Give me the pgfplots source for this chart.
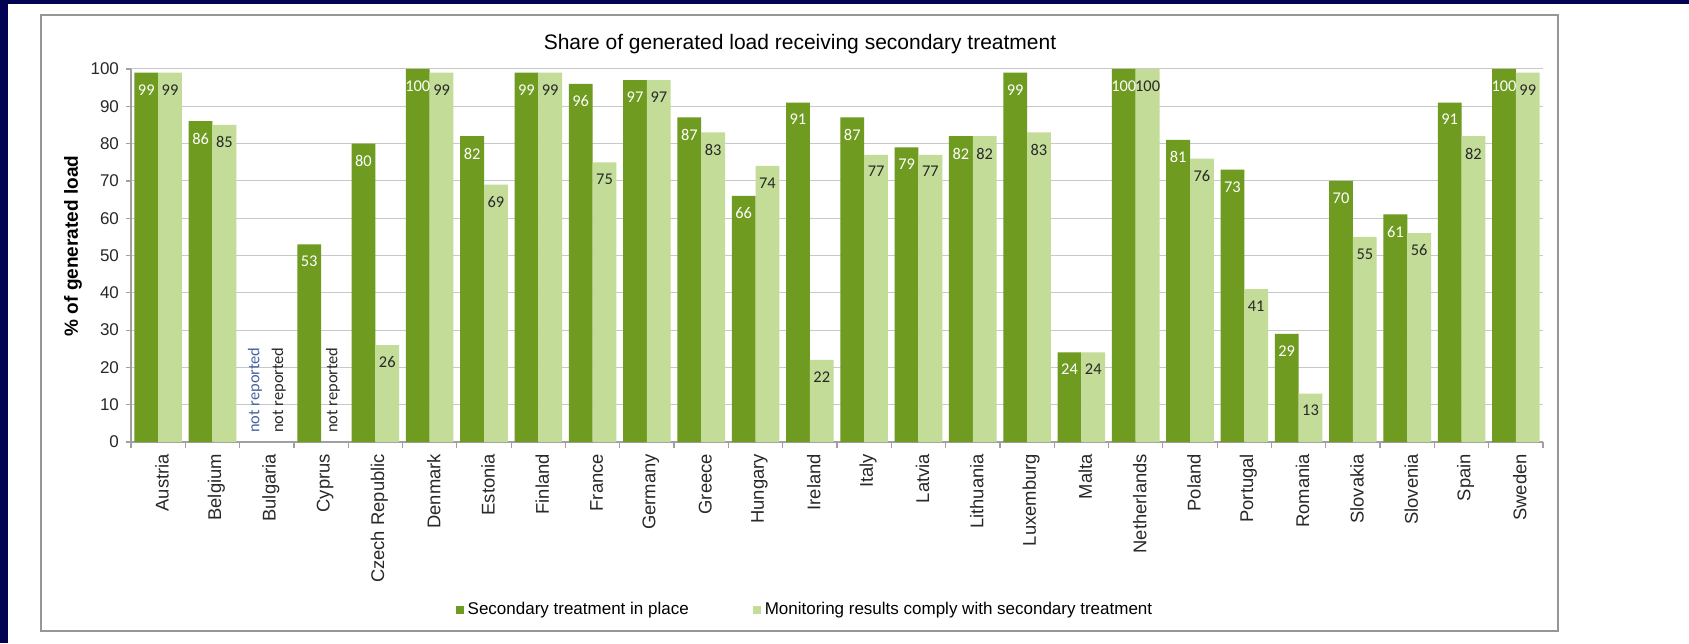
\documentclass[border=0pt]{standalone}
\usepackage{fontspec}
\setmainfont{Liberation Sans}
\newfontfamily\calibri{Carlito}
\usepackage{pgfplots}
\pgfplotsset{compat=1.18}
\definecolor{navy}{RGB}{3,3,84}
\definecolor{darkg}{RGB}{110,155,32}
\definecolor{lightg}{RGB}{195,220,152}
\definecolor{gridc}{RGB}{200,200,200}
\definecolor{axc}{RGB}{160,160,160}
\definecolor{boxc}{RGB}{150,150,150}
\definecolor{nrblue}{RGB}{70,100,160}
\definecolor{txt}{RGB}{40,40,40}
\begin{document}
\begin{tikzpicture}
\fill[navy] (0,0) rectangle (844.5pt,321.5pt);
\fill[white] (4pt,0) rectangle (844.5pt,319.5pt);
\draw[boxc, line width=0.8pt] (20.5pt,6pt) rectangle (779pt,314pt);
\begin{axis}[
  scale only axis, width=706pt, height=186.5pt,
  at={(65.5pt,100.5pt)}, anchor=south west,
  /pgf/number format/assume math mode=true,
  ymin=0, ymax=100, ytick={0,10,...,100},
  xmin=-0.5, xmax=25.5,
  xtick={0,...,25},
  xticklabels={Austria,Belgium,Bulgaria,Cyprus,Czech Republic,Denmark,Estonia,Finland,France,Germany,Greece,Hungary,Ireland,Italy,Latvia,Lithuania,Luxemburg,Malta,Netherlands,Poland,Portugal,Romania,Slovakia,Slovenia,Spain,Sweden},
  minor xtick={-0.5,0.5,...,25.5},
  axis x line*=bottom, axis y line*=left,
  axis line style={axc, line width=0.6pt},
  tick align=outside,
  major tick length=2.5pt, minor tick length=3pt,
  major x tick style={draw=none},
  minor x tick style={axc, line width=0.6pt},
  major y tick style={axc, line width=0.6pt},
  ymajorgrids, grid style={gridc, line width=0.5pt},
  x tick label style={rotate=90, anchor=east, font=\fontsize{9.2}{10}\selectfont, text=txt, yshift=-2pt},
  y tick label style={font=\fontsize{8.5}{10}\selectfont, text=txt},
  ybar, bar width=11.9pt,
  legend style={at={(0.478,-0.45)}, anchor=center, draw=none, fill=none,
    legend columns=2, font=\fontsize{8.5}{10}\selectfont, text=black,
    /tikz/every even column/.append style={column sep=30pt}},
  legend cell align=left,
]
\addplot[fill=darkg, draw=none, bar shift=-5.95pt,
  legend image code/.code={\fill[darkg] (0pt,-2pt) rectangle (4pt,2pt);},
  nodes near coords,
  nodes near coords style={font=\calibri\fontsize{8.2}{9}\selectfont, text=white, anchor=north, yshift=-2.3pt}]
coordinates {(0,99) (1,86) (3,53) (4,80) (5,100) (6,82) (7,99) (8,96) (9,97) (10,87) (11,66) (12,91) (13,87) (14,79) (15,82) (16,99) (17,24) (18,100) (19,81) (20,73) (21,29) (22,70) (23,61) (24,91) (25,100)};
\addplot[fill=lightg, draw=none, bar shift=5.95pt,
  legend image code/.code={\fill[lightg] (0pt,-2pt) rectangle (4pt,2pt);},
  nodes near coords,
  nodes near coords style={font=\calibri\fontsize{8.2}{9}\selectfont, text=txt, anchor=north, yshift=-2.3pt}]
coordinates {(0,99) (1,85) (4,26) (5,99) (6,69) (7,99) (8,75) (9,97) (10,83) (11,74) (12,22) (13,77) (14,77) (15,82) (16,83) (17,24) (18,100) (19,76) (20,41) (21,13) (22,55) (23,56) (24,82) (25,99)};
\legend{Secondary treatment in place, Monitoring results comply with secondary treatment}
\node[rotate=90, anchor=west, inner sep=0pt, font=\calibri\fontsize{8.2}{9}\selectfont, text=nrblue] at (axis cs:1.781,2.4) {not reported};
\node[rotate=90, anchor=west, inner sep=0pt, font=\calibri\fontsize{8.2}{9}\selectfont, text=txt] at (axis cs:2.219,2.4) {not reported};
\node[rotate=90, anchor=west, inner sep=0pt, font=\calibri\fontsize{8.2}{9}\selectfont, text=txt] at (axis cs:3.219,2.4) {not reported};
\end{axis}
\node[font=\fontsize{10.5}{12}\selectfont, text=black] at (400pt,299.5pt) {Share of generated load receiving secondary treatment};
\node[rotate=90, font=\bfseries\fontsize{9.5}{11}\selectfont, text=black] at (36.5pt,198.5pt) {\% of generated load};
\pgfresetboundingbox
\useasboundingbox (0,0) rectangle (844.5pt,321.5pt);
\end{tikzpicture}
\end{document}
